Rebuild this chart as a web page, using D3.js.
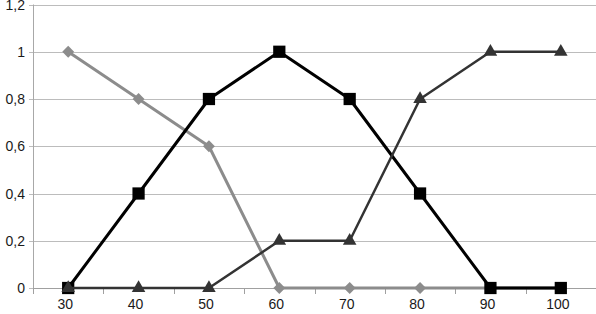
<!DOCTYPE html>
<html>
<head>
<meta charset="utf-8">
<script src="https://cdn.jsdelivr.net/npm/d3@7"></script>
<style>
  body { margin: 0; background: #fff; }
  svg { display: block; font-family: "Liberation Sans", Arial, sans-serif; }
</style>
</head>
<body>
<svg width="596" height="314"></svg>
<script>
// chart data
var categories = ['30', '40', '50', '60', '70', '80', '90', '100'];
var diamondValues = [1, 0.8, 0.6, 0, 0, 0, 0, 0];
var squareValues = [0, 0.4, 0.8, 1, 0.8, 0.4, 0, 0];
var triangleValues = [0, 0, 0, 0.2, 0.2, 0.8, 1, 1];
var yTicks = [0, 0.2, 0.4, 0.6, 0.8, 1, 1.2];

var svg = d3.select('svg');
var plotLeft = 33, plotRight = 596, plotTop = 4.5, plotBottom = 288;

var x = d3.scaleBand().domain(categories).range([plotLeft, plotRight]).padding(0);
var y = d3.scaleLinear().domain([0, 1.2]).range([plotBottom, plotTop]);

var fmt = function (v) { return d3.format('.1~f')(v).replace('.', ','); };

// gridlines
svg.append('g').selectAll('line').data(yTicks).enter().append('line')
    .attr('x1', plotLeft - 4).attr('x2', plotRight)
    .attr('y1', function (d) { return Math.round(y(d)) + 0.5; })
    .attr('y2', function (d) { return Math.round(y(d)) + 0.5; })
    .attr('stroke', '#bcbcbc').attr('stroke-width', 1);

// y axis line
svg.append('line').attr('x1', plotLeft + 0.5).attr('x2', plotLeft + 0.5)
    .attr('y1', plotTop).attr('y2', plotBottom + 0.5)
    .attr('stroke', '#a8a8a8');

// y labels
svg.append('g').selectAll('text').data(yTicks).enter().append('text')
    .attr('x', 25).attr('y', function (d) { return y(d) + 5; })
    .attr('text-anchor', 'end').attr('font-size', 14).attr('fill', '#1a1a1a')
    .text(fmt);

// x axis line + ticks
svg.append('line').attr('x1', plotLeft).attr('x2', plotRight)
    .attr('y1', Math.round(y(0)) + 0.5).attr('y2', Math.round(y(0)) + 0.5)
    .attr('stroke', '#a0a0a0');
var bounds = categories.map(function (c) { return x(c); }).concat([plotRight - 0.5]);
svg.append('g').selectAll('line').data(bounds).enter().append('line')
    .attr('x1', function (d) { return Math.round(d) + 0.5; })
    .attr('x2', function (d) { return Math.round(d) + 0.5; })
    .attr('y1', Math.round(y(0))).attr('y2', Math.round(y(0)) + 6)
    .attr('stroke', '#a0a0a0');

// x labels
svg.append('g').selectAll('text').data(categories).enter().append('text')
    .attr('x', function (d) { return x(d) + x.bandwidth() / 2 - 3; })
    .attr('y', 309)
    .attr('text-anchor', 'middle').attr('font-size', 14).attr('fill', '#1a1a1a')
    .text(function (d) { return d; });

function cx(i) { return x(categories[i]) + x.bandwidth() / 2; }

function drawSeries(values, color, width, symbol, size) {
    var line = d3.line()
        .x(function (d, i) { return cx(i); })
        .y(function (d) { return y(d); });
    svg.append('path').datum(values)
        .attr('d', line).attr('fill', 'none')
        .attr('stroke', color).attr('stroke-width', width)
        .attr('stroke-linejoin', 'round');
    svg.append('g').selectAll('path').data(values).enter().append('path')
        .attr('d', d3.symbol().type(symbol).size(size))
        .attr('transform', function (d, i) { return 'translate(' + cx(i) + ',' + y(d) + ')'; })
        .attr('fill', color);
}

drawSeries(diamondValues, '#8c8c8c', 3, d3.symbolDiamond2 || d3.symbolDiamond, 90);
drawSeries(squareValues, '#000000', 3, d3.symbolSquare, 150);
drawSeries(triangleValues, '#333333', 2.5, d3.symbolTriangle, 80);
</script>
</body>
</html>
